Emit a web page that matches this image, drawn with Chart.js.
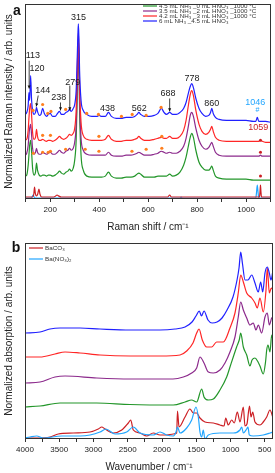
<!DOCTYPE html>
<html>
<head>
<meta charset="utf-8">
<script src="https://cdn.jsdelivr.net/npm/chart.js@4.4.1/dist/chart.umd.min.js"></script>
<style>
  html, body { margin: 0; padding: 0; background: #fff; }
  canvas { display: block; }
</style>
</head>
<body>
<canvas id="ramanChart" width="275" height="236"></canvas>
<canvas id="irChart" width="275" height="237"></canvas>
<script>
// ---- panel a: Raman ----
const ramanShift = [97,104,110,113,116,120,124,128,134,140,144,148,155,162,169,176,185,192,200,210,220,230,238,246,255,264,272,279,286,294,300,306,310,313,315,317,320,326,335,350,370,390,400,410,425,438,450,470,490,510,530,545,555,562,570,585,605,625,640,654,665,675,688,700,715,730,745,755,765,772,778,785,795,808,820,835,848,855,860,866,875,890,920,960,1000,1030,1040,1046,1052,1059,1066,1080,1102];
const ramanBlue = [85,87,94,107,99,124,99,89,85,87,92,88,84,85,91,86,83,85,86,83,83,86,88,85,85,87,88,90,88,91,95,109,139,164,176,164,129,99,89,85,83,83,84,83,83,87,83,81,81,82,82,83,85,87,85,83,83,84,86,91,87,85,87,85,85,87,91,97,107,113,116,112,101,91,86,83,84,87,91,86,82,80,79,79,79,78,78,82,78,78,78,78,77];
const ramanRed = [59,60,69,81,91,96,84,67,60,62,70,63,59,59,60,59,58,59,59,58,59,61,63,61,60,61,63,65,64,66,71,89,124,154,167,154,114,77,64,60,59,59,59,59,60,64,60,58,58,59,59,60,61,63,61,59,59,60,61,62,61,61,63,61,61,63,69,79,95,105,109,104,89,75,68,65,67,70,73,68,62,59,58,58,58,58,58,58,58,59,58,57,57];
const ramanPurple = [44,46,54,64,71,75,64,51,45,47,51,47,45,45,47,46,45,46,47,45,45,47,49,47,46,48,49,51,49,51,57,74,109,144,161,144,99,61,49,45,44,44,44,44,44,47,44,43,43,44,44,45,46,47,46,44,44,45,46,48,47,46,47,46,46,48,53,61,74,84,87,83,71,59,53,50,52,55,57,53,47,44,43,43,43,43,43,43,43,44,43,43,43];
const ramanGreen = [23,24,34,44,54,59,47,31,24,27,36,29,24,23,24,24,23,24,24,23,24,26,28,26,25,27,28,30,28,31,39,59,99,139,157,139,89,44,29,23,22,22,22,22,23,27,23,21,21,22,22,23,25,26,25,22,22,22,23,23,23,23,25,23,24,27,34,42,54,62,66,62,49,37,32,29,29,31,33,29,23,21,20,20,20,19,19,19,19,19,19,19,19];

const baco3RamanShift = [97,120,128,133,136,139,144,149,154,158,165,180,215,222,228,234,245,400,600,680,688,695,800,1000,1050,1055,1057,1059,1061,1063,1070,1102];
const baco3Raman = [2,2,2,5,12,6,3,5,10,5,2,2,2,3,4,3,2,2,2,2,4,2,2,2,2,2,7,14,7,2,2,2];
const banitrateRamanShift = [97,120,126,130,134,140,200,600,730,735,740,1000,1040,1043,1046,1049,1052,1102];
const banitrateRaman = [1,1,2,4,2,1,1,1,1,2,1,1,1,7,14,7,1,1];
const ramanTicks = [100,200,300,400,500,600,700,800,900,1000,1100];

// orange markers sitting on the sample spectra
const dotBlueShift = [130,169,190,203,263,349,397,491,535,592,653];
const dotBlueLevel = [89,95,86,88,90,86,85,83,85,84,92];
const dotRedShift = [169,201,399,656];
const dotRedLevel = [64,64,63,63];
const dotPurpleShift = [131,169,192,201,263,343,399,534,592,656];
const dotPurpleLevel = [46,47,47,48,50,50,48,48,50,51];
const starShift = [1059,1059,1059];
const starLevel = [59,47,23];

const ramanLegend = ['4.5 mL NH₃ _0 mL HNO₃ _1000 °C', '3.5 mL NH₃ _2 mL HNO₃ _1000 °C', '4.2 mL NH₃ _3 mL HNO₃ _1000 °C', '6 mL NH₃ _4.5 mL HNO₃'];
const peakText = ['113','120','144','238','279','315','438','562','688','778','860','1046','1059','#'];
const peakShift = [129,146,170,235,292,316,434,564,681,779,860,1038,1050,1047];
const peakLevel = [144,131,109,102,117,182,91,91,106,121,96,97,72,89];
const arrowShift = [[114,114],[151,143],[242,242],[280,280],[688,688]];
const arrowLevel = [[139,111],[104,93],[97,89],[114,89],[101,88]];

// ---- panel b: IR ----
const irBlueWn = [4000,3781,3635,3489,3197,2905,2467,2029,1810,1664,1562,1504,1456,1424,1387,1329,1270,1197,1124,1051,964,905,876,851,827,788,745,691,643,595,560,530,497,463,434,409,384];
const irBlue = [106,107,110,111,111,110,109,109,110,112,117,123,128,123,128,119,116,117,121,129,142,159,171,187,176,159,159,164,156,147,157,147,166,172,166,159,167];
const irRedWn = [4000,3781,3562,3416,3197,2905,2467,2029,1737,1640,1548,1494,1460,1412,1348,1275,1202,1105,1008,935,887,851,813,764,691,643,609,570,522,482,463,434,405,380];
const irRed = [82,82,85,87,86,84,83,83,84,88,96,106,110,99,92,92,97,97,111,126,146,164,157,146,141,136,131,141,127,149,171,146,151,149];
const irPurpleWn = [4000,3781,3562,3416,2953,2467,1840,1689,1567,1494,1446,1387,1324,1251,1154,1081,1008,935,887,851,813,764,716,668,628,595,545,497,463,434,399,380];
const irPurple = [56,57,62,63,61,60,60,62,66,71,82,76,67,66,69,76,87,102,122,137,129,121,114,116,109,114,106,122,126,114,121,122];
const irGreenWn = [4000,3781,3489,2953,2467,1835,1664,1567,1494,1421,1387,1324,1251,1154,1056,1008,960,911,873,851,813,764,716,686,643,598,570,522,489,472,453,424,399,380];
const irGreen = [32,33,36,36,34.5,34,37,39,37,50,42,39,40,49,62,72,82,92,99,106,92,84,73,79,81,77,73,65,77,89,94,87,104,99];
const irBaco3Wn = [4000,3829,3635,3514,3295,3051,2930,2880,2832,2711,2588,2492,2457,2419,2321,2224,2127,2029,1932,1835,1786,1774,1752,1664,1592,1543,1494,1446,1373,1251,1154,1095,1070,1033,983,945,901,862,813,789,760,723,701,676,643,570,522,472,424,384];
const irBaco3 = [1,1,2,5,6,7,10,12,10,6,9,16,19,9,6,3,6,4,4,5,6,28,12,22,30,26,26,21,17,16,14,13,21,14,19,16,27,17,32,13,15,33,22,27,17,14,17,22,29,22];
const irBanitrateWn = [4000,3927,3829,3733,3464,3197,3051,2905,2818,2686,2516,2419,2321,2127,2029,1932,1835,1796,1774,1737,1640,1567,1504,1470,1446,1421,1398,1373,1324,1154,960,862,837,813,764,745,726,668,522,424,384];
const irBanitrate = [1,2,3,1,3,3,4,7,10,5,7,12,6,4,7,4,3,7,12,6,11,19,32,22,7,2,9,0,4,6,6,9,12,6,10,12,4,3,4,6,7];
const irTicks = [500,750,1000,1250,1500,1750,2000,2250,2500,2750,3000,3250,3500,3750,4000];
const irLegend = ['BaCO₃', 'Ba(NO₃)₂'];

const FONT = 'Arial, "Liberation Sans", Helvetica, sans-serif';
Chart.defaults.font.family = FONT;
Chart.defaults.color = '#222';
Chart.defaults.animation = false;

const GREEN = '#23962a', PURPLE = '#8c2a8c', RED = '#ff2626', BLUE = '#2020ff';
const DARKRED = '#cc1f24', SKY = '#22a6ff', ORANGE = '#ff7f1e';

const pts = (xs, ys) => xs.map((x, i) => ({ x, y: ys[i] }));

function line(label, xs, ys, color) {
  return { label, data: pts(xs, ys), borderColor: color, borderWidth: 1.2, pointRadius: 0,
    cubicInterpolationMode: 'monotone', fill: false };
}
function dots(xs, ys, color, r) {
  return { data: pts(xs, ys), showLine: false, pointRadius: r, pointBackgroundColor: color,
    pointBorderWidth: 0, borderColor: color };
}

// frame round the plot area
const frame = {
  id: 'frame',
  afterDatasetsDraw(chart) {
    const { ctx, chartArea: a } = chart;
    ctx.save();
    ctx.strokeStyle = '#333';
    ctx.lineWidth = 1;
    ctx.strokeRect(a.left + 0.5, a.top + 0.5, a.right - a.left - 1, a.bottom - a.top - 1);
    ctx.restore();
  }
};

// tiny legend, text stretched a little sideways like the original
function drawLegend(ctx, labels, colors, x, y, dy, size, stretch) {
  ctx.save();
  ctx.font = size + 'px ' + FONT;
  ctx.textBaseline = 'middle';
  ctx.fillStyle = '#333';
  labels.forEach((t, i) => {
    const yy = y + i * dy;
    ctx.strokeStyle = colors[i];
    ctx.lineWidth = 1.2;
    ctx.beginPath();
    ctx.moveTo(x, yy);
    ctx.lineTo(x + 14, yy);
    ctx.stroke();
    ctx.save();
    ctx.translate(x + 16, yy + 0.3);
    ctx.scale(stretch, 1);
    ctx.fillText(t, 0, 0);
    ctx.restore();
  });
  ctx.restore();
}

function panelLetter(ctx, t, x, y) {
  ctx.save();
  ctx.font = 'bold 14px ' + FONT;
  ctx.fillStyle = '#111';
  ctx.textAlign = 'center';
  ctx.textBaseline = 'middle';
  ctx.fillText(t, x, y);
  ctx.restore();
}

const ramanNotes = {
  id: 'ramanNotes',
  afterDraw(chart) {
    const { ctx, scales: { x, y } } = chart;
    ctx.save();
    ctx.textAlign = 'center';
    ctx.textBaseline = 'middle';
    peakText.forEach((t, i) => {
      ctx.fillStyle = t === '1046' || t === '#' ? SKY : t === '1059' ? DARKRED : '#222';
      ctx.font = (t === '#' ? '7px ' : '9px ') + FONT;
      ctx.fillText(t, x.getPixelForValue(peakShift[i]), y.getPixelForValue(peakLevel[i]));
    });
    ctx.strokeStyle = '#111';
    ctx.fillStyle = '#111';
    ctx.lineWidth = 0.8;
    arrowShift.forEach((s, i) => {
      const x1 = x.getPixelForValue(s[0]), y1 = y.getPixelForValue(arrowLevel[i][0]);
      const x2 = x.getPixelForValue(s[1]), y2 = y.getPixelForValue(arrowLevel[i][1]);
      const ang = Math.atan2(y2 - y1, x2 - x1);
      ctx.beginPath();
      ctx.moveTo(x1, y1);
      ctx.lineTo(x2, y2);
      ctx.stroke();
      ctx.beginPath();
      ctx.moveTo(x2, y2);
      ctx.lineTo(x2 - 3.5 * Math.cos(ang - 0.45), y2 - 3.5 * Math.sin(ang - 0.45));
      ctx.lineTo(x2 - 3.5 * Math.cos(ang + 0.45), y2 - 3.5 * Math.sin(ang + 0.45));
      ctx.closePath();
      ctx.fill();
    });
    ctx.restore();
    drawLegend(ctx, ramanLegend, [GREEN, PURPLE, RED, BLUE], 143, 6, 5, 5.2, 1.2);
    panelLetter(ctx, 'a', 17, 11);
  }
};

const irNotes = {
  id: 'irNotes',
  afterDraw(chart) {
    drawLegend(chart.ctx, irLegend, [DARKRED, SKY], 29, 12, 11, 5.5, 1.15);
    panelLetter(chart.ctx, 'b', 16, 12);
  }
};

function xAxis(opts) {
  return Object.assign({
    type: 'linear',
    afterFit: s => { s.height = opts.h; },
    afterBuildTicks: s => { s.ticks = opts.ticks.map(v => ({ value: v })); },
    grid: { drawOnChartArea: false, drawTicks: true, tickLength: 3, tickColor: '#333' },
    border: { display: false },
    ticks: { autoSkip: false, maxRotation: 0, padding: 3,
      font: { size: 8 }, color: '#222', callback: v => (v % opts.major === 0 ? String(v) : '') },
    title: { display: true, text: opts.title, font: { size: 10 }, color: '#222', padding: { top: 0, bottom: opts.tpad } }
  }, opts.extra);
}
function yAxis(title, max) {
  return {
    min: 0, max,
    afterFit: s => { s.width = 25; },
    grid: { display: false },
    border: { display: false },
    ticks: { display: false },
    title: { display: true, text: title, font: { size: 10 }, color: '#222', padding: { top: 3, bottom: 0 } }
  };
}

new Chart(document.getElementById('ramanChart'), {
  type: 'line',
  data: {
    datasets: [
      dots(dotBlueShift, dotBlueLevel, ORANGE, 1.6),
      dots(dotRedShift, dotRedLevel, ORANGE, 1.6),
      dots(dotPurpleShift, dotPurpleLevel, ORANGE, 1.6),
      dots(starShift, starLevel, DARKRED, 1.5),
      line(ramanLegend[3], ramanShift, ramanBlue, BLUE),
      line(ramanLegend[2], ramanShift, ramanRed, RED),
      line(ramanLegend[1], ramanShift, ramanPurple, PURPLE),
      line(ramanLegend[0], ramanShift, ramanGreen, GREEN),
      line('BaCO₃', baco3RamanShift, baco3Raman, DARKRED),
      line('Ba(NO₃)₂', banitrateRamanShift, banitrateRaman, SKY)
    ]
  },
  options: {
    responsive: false,
    devicePixelRatio: 1,
    layout: { padding: { top: 3, right: 2, left: 0, bottom: 0 } },
    plugins: { legend: { display: false }, tooltip: { enabled: false } },
    scales: {
      x: xAxis({ h: 37, ticks: ramanTicks, major: 200, title: 'Raman shift / cm⁻¹', tpad: 3, extra: { min: 97, max: 1102 } }),
      y: yAxis('Normalized Raman intensity / arb. units', 196)
    }
  },
  plugins: [frame, ramanNotes]
});

new Chart(document.getElementById('irChart'), {
  type: 'line',
  data: {
    datasets: [
      line('6 mL NH₃ _4.5 mL HNO₃', irBlueWn, irBlue, BLUE),
      line(ramanLegend[2], irRedWn, irRed, RED),
      line(ramanLegend[1], irPurpleWn, irPurple, PURPLE),
      line(ramanLegend[0], irGreenWn, irGreen, GREEN),
      line(irLegend[1], irBanitrateWn, irBanitrate, SKY),
      line(irLegend[0], irBaco3Wn, irBaco3, DARKRED)
    ]
  },
  options: {
    responsive: false,
    devicePixelRatio: 1,
    layout: { padding: { top: 7, right: 2, left: 0, bottom: 0 } },
    plugins: { legend: { display: false }, tooltip: { enabled: false } },
    scales: {
      x: xAxis({ h: 34, ticks: irTicks, major: 500, title: 'Wavenumber / cm⁻¹', tpad: 0, extra: { min: 380, max: 4000, reverse: true } }),
      y: yAxis('Normalized absorption / arb. units', 196)
    }
  },
  plugins: [frame, irNotes]
});
</script>
</body>
</html>
